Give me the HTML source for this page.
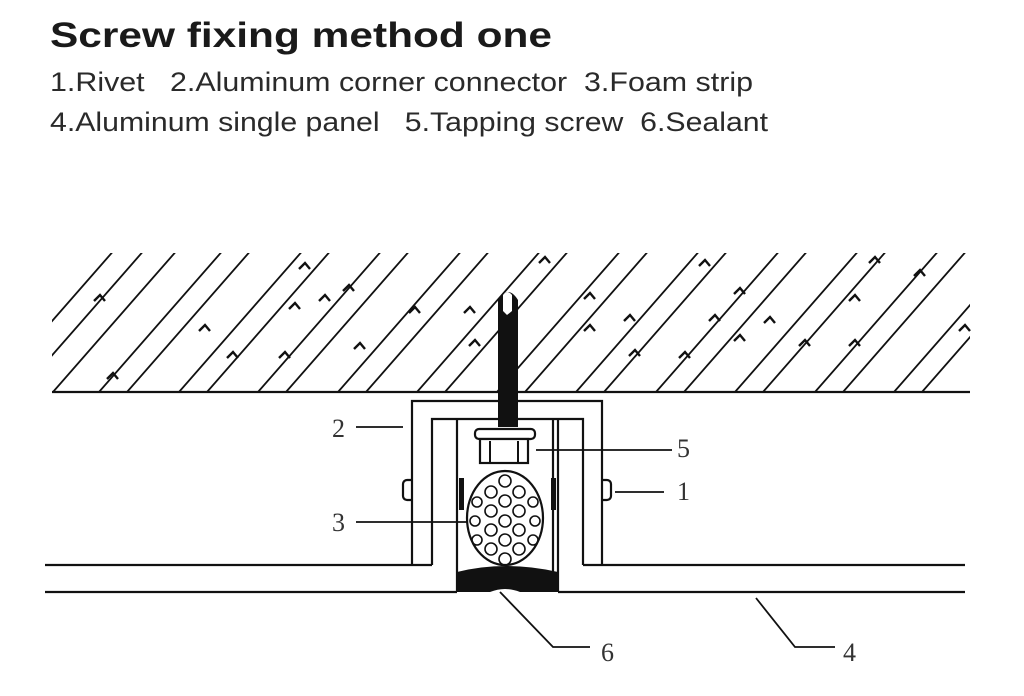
<!DOCTYPE html>
<html><head><meta charset="utf-8"><style>
html,body{margin:0;padding:0;background:#fff;}
svg{display:block}
</style></head><body>
<svg width="1024" height="696" viewBox="0 0 1024 696" xmlns="http://www.w3.org/2000/svg">
<defs>
<clipPath id="hc"><rect x="52" y="253" width="918" height="139"/></clipPath>
</defs>
<text x="50" y="47" font-family="Liberation Sans, sans-serif" font-weight="bold" font-size="35" textLength="502" lengthAdjust="spacingAndGlyphs" fill="#1a1a1a">Screw fixing method one</text>
<text x="50" y="91" font-family="Liberation Sans, sans-serif" font-size="27" textLength="703" lengthAdjust="spacingAndGlyphs" fill="#2a2a2a" xml:space="preserve">1.Rivet   2.Aluminum corner connector  3.Foam strip</text>
<text x="50" y="131" font-family="Liberation Sans, sans-serif" font-size="27" textLength="718" lengthAdjust="spacingAndGlyphs" fill="#2a2a2a" xml:space="preserve">4.Aluminum single panel   5.Tapping screw  6.Sealant</text>

<g clip-path="url(#hc)" stroke="#111" stroke-width="1.8" fill="none">
<path d="
M53 392 l140 -160
M20 392 l140 -160
M99 392 l140 -160 M127 392 l140 -160
M179 392 l140 -160 M207 392 l140 -160
M258 392 l140 -160 M286 392 l140 -160
M338 392 l140 -160 M366 392 l140 -160
M417 392 l140 -160 M445 392 l140 -160
M497 392 l140 -160 M525 392 l140 -160
M576 392 l140 -160 M604 392 l140 -160
M656 392 l140 -160 M684 392 l140 -160
M735 392 l140 -160 M763 392 l140 -160
M815 392 l140 -160 M843 392 l140 -160
M894 392 l140 -160 M922 392 l140 -160
M-10 392 l140 -160
"/>
</g>
<g fill="none" stroke="#111" stroke-width="2.4">
<path d="M94 301 l6 -6 l5 6 M107 379 l6 -6 l5 6 M199 331 l6 -6 l5 6 M227 358 l6 -6 l5 6 M279 358 l6 -6 l5 6 M289 309 l6 -6 l5 6 M299 269 l6 -6 l5 6 M319 301 l6 -6 l5 6 M343 291 l6 -6 l5 6 M354 349 l6 -6 l5 6 M409 313 l6 -6 l5 6 M464 313 l6 -6 l5 6 M469 346 l6 -6 l5 6 M539 263 l6 -6 l5 6 M584 299 l6 -6 l5 6 M584 331 l6 -6 l5 6 M624 321 l6 -6 l5 6 M629 356 l6 -6 l5 6 M699 266 l6 -6 l5 6 M709 321 l6 -6 l5 6 M679 358 l6 -6 l5 6 M734 294 l6 -6 l5 6 M734 341 l6 -6 l5 6 M764 323 l6 -6 l5 6 M799 346 l6 -6 l5 6 M849 301 l6 -6 l5 6 M849 346 l6 -6 l5 6 M869 263 l6 -6 l5 6 M914 276 l6 -6 l5 6 M959 331 l6 -6 l5 6"/>
</g>
<line x1="52" y1="392" x2="970" y2="392" stroke="#111" stroke-width="2.2"/>

<g stroke="#111" stroke-width="2.2" fill="none">
<path d="M45 565 H432"/>
<path d="M45 592 H457"/>
<path d="M583 565 H965"/>
<path d="M558 592 H965"/>
<path d="M412 565 V401 H602 V565"/>
<path d="M432 565 V419 H583 V565"/>
<path d="M457 592 V419"/>
<path d="M558 592 V419"/>
<path d="M553 419 V575"/>
<path d="M412 480 h-5 a4 4 0 0 0 -4 4 v12 a4 4 0 0 0 4 4 h5"/>
<path d="M602 480 h5 a4 4 0 0 1 4 4 v12 a4 4 0 0 1 -4 4 h-5"/>
</g>
<rect x="459" y="478" width="5" height="32" fill="#111"/>
<rect x="551" y="478" width="5" height="32" fill="#111"/>
<path d="M457 572 Q505 560 558 572 V592 H520 Q505 586 490 592 H457 Z" fill="#111"/>

<path d="M498 427 V300 Q508 284 518 300 V427 Z" fill="#111"/>
<path d="M503 295 q4 -6 9 0 v16 l-5 4 l-4 -4 z" fill="#fff"/>
<rect x="475" y="429" width="60" height="10" rx="4" fill="#fff" stroke="#111" stroke-width="2.2"/>
<rect x="480" y="439" width="48" height="24" fill="#fff" stroke="#111" stroke-width="2.2"/>
<line x1="490" y1="441" x2="490" y2="462" stroke="#111" stroke-width="2"/>
<line x1="518" y1="441" x2="518" y2="462" stroke="#111" stroke-width="2"/>

<ellipse cx="505" cy="518" rx="38" ry="47" fill="#fff" stroke="#111" stroke-width="2.2"/>
<g fill="none" stroke="#111" stroke-width="1.6">
<circle cx="505" cy="481" r="6"/>
<circle cx="491" cy="492" r="6"/><circle cx="519" cy="492" r="6"/>
<circle cx="505" cy="501" r="6"/>
<circle cx="477" cy="502" r="5"/><circle cx="533" cy="502" r="5"/>
<circle cx="491" cy="511" r="6"/><circle cx="519" cy="511" r="6"/>
<circle cx="505" cy="521" r="6"/>
<circle cx="475" cy="521" r="5"/><circle cx="535" cy="521" r="5"/>
<circle cx="491" cy="530" r="6"/><circle cx="519" cy="530" r="6"/>
<circle cx="505" cy="540" r="6"/>
<circle cx="477" cy="540" r="5"/><circle cx="533" cy="540" r="5"/>
<circle cx="491" cy="549" r="6"/><circle cx="519" cy="549" r="6"/>
<circle cx="505" cy="559" r="6"/>
</g>

<g stroke="#111" stroke-width="1.8" fill="none">
<path d="M356 427 H403"/>
<path d="M356 522 H468"/>
<path d="M536 450 H672"/>
<path d="M615 492 H664"/>
<path d="M500 592 L553 647 H590"/>
<path d="M756 598 L795 647 H835"/>
</g>
<g font-family="Liberation Serif, serif" font-size="26" fill="#333">
<text x="332" y="437">2</text>
<text x="332" y="531">3</text>
<text x="677" y="457">5</text>
<text x="677" y="500">1</text>
<text x="601" y="661">6</text>
<text x="843" y="661">4</text>
</g>
</svg>
</body></html>
